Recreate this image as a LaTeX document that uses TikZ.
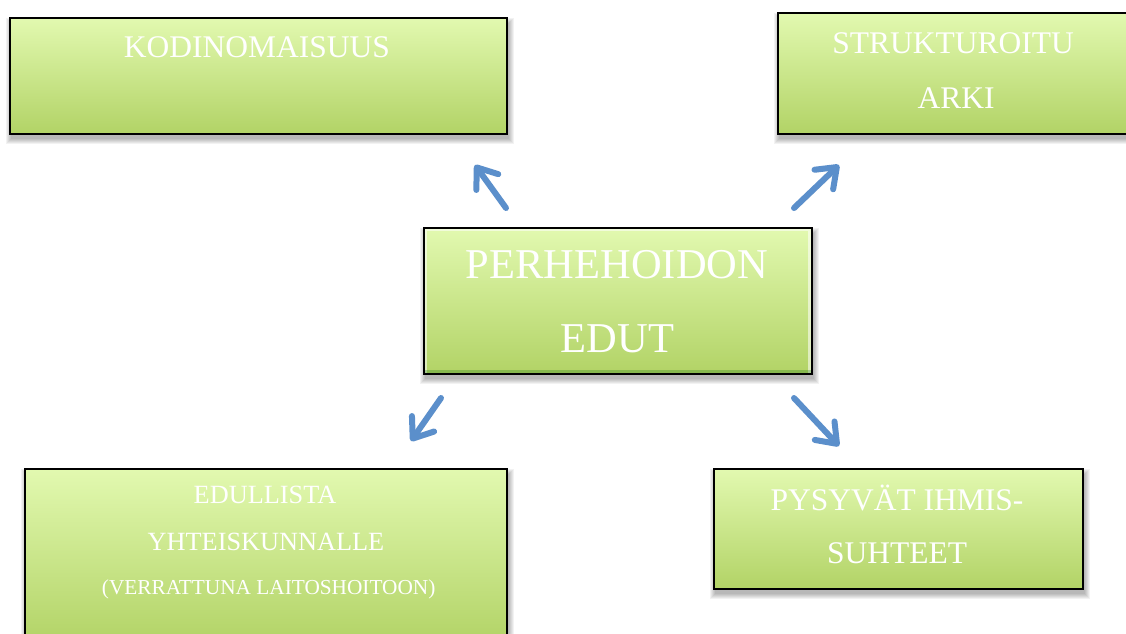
\documentclass[tikz,border=0pt]{standalone}
\usepackage{fontspec}
\setmainfont{Liberation Serif}
\usetikzlibrary{arrows.meta,backgrounds}
\definecolor{gtop}{HTML}{E2F9B0}
\definecolor{gbot}{HTML}{B2D366}
\definecolor{arrowblue}{HTML}{5B8FCB}
\tikzset{
  box/.style={draw=black, line width=1.5pt, top color=gtop, bottom color=gbot,
    inner sep=0pt, anchor=north west},
  bevel/.style={path picture={
    \draw[white, opacity=0.55, line width=7pt]
      (path picture bounding box.south west) -- (path picture bounding box.north west)
      -- (path picture bounding box.north east) -- (path picture bounding box.south east);
    \draw[black!60!green, opacity=0.25, line width=7pt]
      (path picture bounding box.south west) -- (path picture bounding box.south east);}},
  softshade/.style={fill=black, opacity=0.05},
  lbl/.style={text=white, inner sep=0pt, anchor=base},
  big/.style={font=\fontsize{31.5}{36}\selectfont},
  huge/.style={font=\fontsize{42.5}{48}\selectfont},
  mid/.style={font=\fontsize{26.3}{30}\selectfont},
  small/.style={font=\fontsize{21.3}{25}\selectfont},
  arr/.style={draw=arrowblue, line width=6pt, line cap=round, line join=round,
    -{Straight Barb[length=18pt, width=27pt, round]},
    preaction={draw=black, opacity=0.12, transform canvas={shift={(1.5pt,-2.5pt)}}}},
}
\begin{document}
\begin{tikzpicture}[x=1pt, y=-1pt]
  \useasboundingbox (0,0) rectangle (1126,633);
  \clip (0,0) rectangle (1126,633);

  % boxes
  \node[box, minimum width=497pt, minimum height=116pt] (kodi) at (9,17) {};
  \node[box, minimum width=353pt, minimum height=121pt] (strk) at (777,12) {};
  \node[box, bevel, minimum width=388pt, minimum height=146pt] (ctr) at (423,227) {};
  \node[box, minimum width=482pt, minimum height=175pt] (edul) at (24,468) {};
  \node[box, minimum width=369pt, minimum height=120pt] (pysy) at (713,468) {};

  % soft shadows behind the boxes
  \begin{scope}[on background layer]
    \fill[white] (0,0) rectangle (1126,633);
    \foreach \n in {kodi,strk,ctr,edul,pysy}{
      \foreach \r in {0,1,...,5}{
        \fill[softshade]
          ([shift={(-\r+1.5,-\r+6)}]\n.north west)
          rectangle ([shift={(\r+1.5,\r+4)}]\n.south east);
      }
    }
  \end{scope}

  % texts
  \node[lbl, big] (kodi-t) at (257,57) {KODINOMAISUUS};
  \node[lbl, big] (strk-t1) at (953,53) {STRUKTUROITU};
  \node[lbl, big] (strk-t2) at (956,108) {ARKI};
  \node[lbl, huge] (ctr-t1) at (617,278) {PERHEHOIDON};
  \node[lbl, huge] (ctr-t2) at (617.5,352) {EDUT};
  \node[lbl, mid] (edul-t1) at (265,503) {EDULLISTA};
  \node[lbl, mid] (edul-t2) at (266,550) {YHTEISKUNNALLE};
  \node[lbl, small] (edul-t3) at (268.7,594) {(VERRATTUNA LAITOSHOITOON)};
  \node[lbl, big] (pysy-t1) at (897,510) {PYSYVÄT IHMIS-};
  \node[lbl, big] (pysy-t2) at (897,563) {SUHTEET};

  % arrow end points
  \coordinate (ul-s) at (506,208);
  \coordinate (ul-e) at (475,165);
  \coordinate (ur-s) at (794,208);
  \coordinate (ur-e) at (839,165);
  \coordinate (ll-s) at (441,398);
  \coordinate (ll-e) at (411,441);
  \coordinate (lr-s) at (794,398);
  \coordinate (lr-e) at (839,446);

  \draw[arr] (ul-s) -- (ul-e);
  \draw[arr] (ur-s) -- (ur-e);
  \draw[arr] (ll-s) -- (ll-e);
  \draw[arr] (lr-s) -- (lr-e);
\end{tikzpicture}
\end{document}
